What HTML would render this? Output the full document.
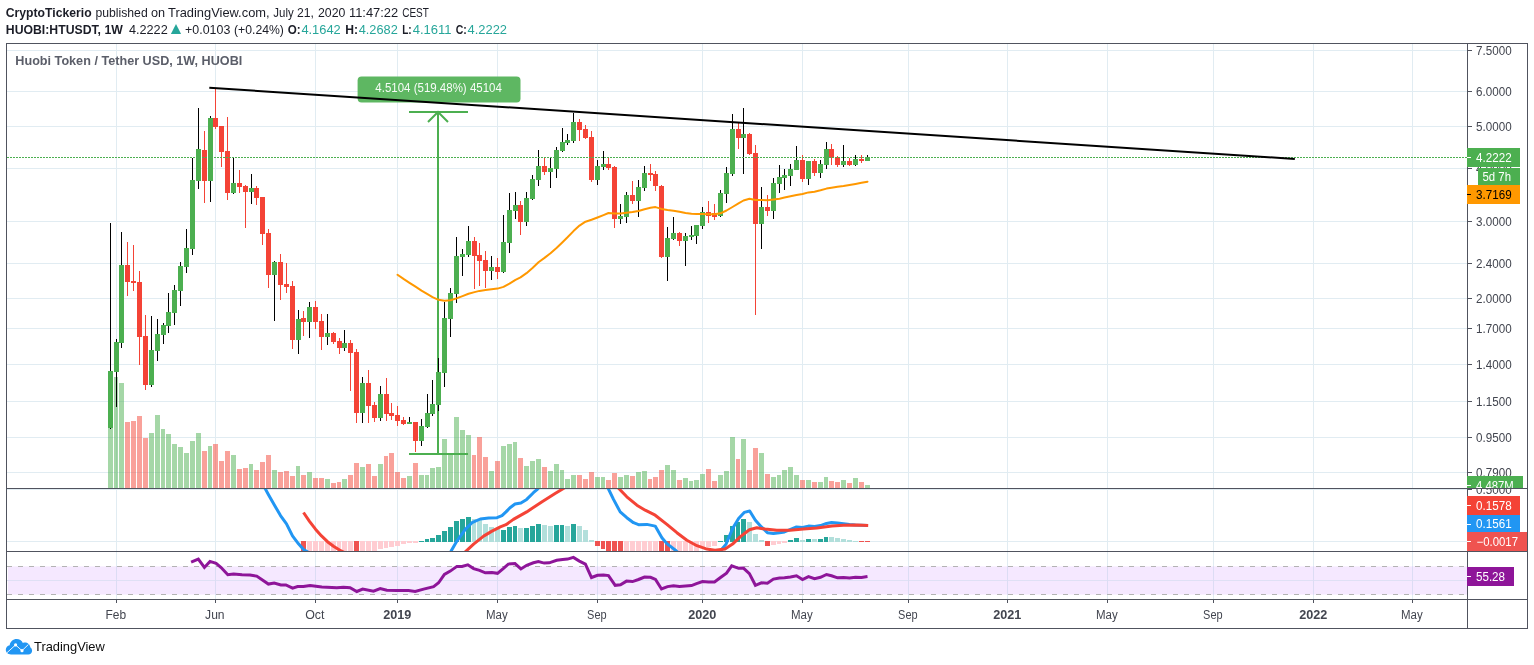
<!DOCTYPE html>
<html lang="en"><head><meta charset="utf-8"><title>HUOBI:HTUSDT 1W - TradingView</title>
<style>
html,body{margin:0;padding:0;background:#fff;}
body{width:1534px;height:665px;position:relative;overflow:hidden;font-family:"Liberation Sans",Arial,sans-serif;}
svg text{white-space:pre}
</style></head><body>
<svg width="1534" height="665" viewBox="0 0 1534 665" style="position:absolute;left:0;top:0">
<defs>
<clipPath id="c1"><rect x="7" y="44" width="1460" height="444"/></clipPath>
<clipPath id="c2"><rect x="7" y="489" width="1460" height="62"/></clipPath>
<clipPath id="c3"><rect x="7" y="552" width="1460" height="47"/></clipPath>
<clipPath id="a1"><rect x="1467" y="44" width="60" height="444"/></clipPath>
<clipPath id="a2"><rect x="1467" y="489" width="61" height="62"/></clipPath>
</defs>
<rect width="1534" height="665" fill="#fff"/>
<g shape-rendering="crispEdges">
<rect x="116" y="44" width="1" height="555" fill="#e1ecf2"/>
<rect x="215" y="44" width="1" height="555" fill="#e1ecf2"/>
<rect x="315" y="44" width="1" height="555" fill="#e1ecf2"/>
<rect x="397" y="44" width="1" height="555" fill="#e1ecf2"/>
<rect x="497" y="44" width="1" height="555" fill="#e1ecf2"/>
<rect x="597" y="44" width="1" height="555" fill="#e1ecf2"/>
<rect x="702" y="44" width="1" height="555" fill="#e1ecf2"/>
<rect x="802" y="44" width="1" height="555" fill="#e1ecf2"/>
<rect x="908" y="44" width="1" height="555" fill="#e1ecf2"/>
<rect x="1007" y="44" width="1" height="555" fill="#e1ecf2"/>
<rect x="1107" y="44" width="1" height="555" fill="#e1ecf2"/>
<rect x="1213" y="44" width="1" height="555" fill="#e1ecf2"/>
<rect x="1313" y="44" width="1" height="555" fill="#e1ecf2"/>
<rect x="1412" y="44" width="1" height="555" fill="#e1ecf2"/>
<rect x="7" y="50" width="1460" height="1" fill="#e1ecf2"/>
<rect x="7" y="91" width="1460" height="1" fill="#e1ecf2"/>
<rect x="7" y="126" width="1460" height="1" fill="#e1ecf2"/>
<rect x="7" y="168" width="1460" height="1" fill="#e1ecf2"/>
<rect x="7" y="221" width="1460" height="1" fill="#e1ecf2"/>
<rect x="7" y="263" width="1460" height="1" fill="#e1ecf2"/>
<rect x="7" y="298" width="1460" height="1" fill="#e1ecf2"/>
<rect x="7" y="328" width="1460" height="1" fill="#e1ecf2"/>
<rect x="7" y="364" width="1460" height="1" fill="#e1ecf2"/>
<rect x="7" y="401" width="1460" height="1" fill="#e1ecf2"/>
<rect x="7" y="437" width="1460" height="1" fill="#e1ecf2"/>
<rect x="7" y="472" width="1460" height="1" fill="#e1ecf2"/>
<rect x="7" y="541" width="1460" height="1" fill="#e1ecf2"/>
<rect x="7" y="489" width="1460" height="1" fill="#e1ecf2"/>
<rect x="8" y="566.4" width="1459" height="28.2" fill="#f5e8ff" shape-rendering="geometricPrecision"/>
<rect x="7" y="580" width="1460" height="1" fill="#dfe0f5"/>
<rect x="116" y="566" width="1" height="29" fill="#dcdcf4"/>
<rect x="215" y="566" width="1" height="29" fill="#dcdcf4"/>
<rect x="315" y="566" width="1" height="29" fill="#dcdcf4"/>
<rect x="397" y="566" width="1" height="29" fill="#dcdcf4"/>
<rect x="497" y="566" width="1" height="29" fill="#dcdcf4"/>
<rect x="597" y="566" width="1" height="29" fill="#dcdcf4"/>
<rect x="702" y="566" width="1" height="29" fill="#dcdcf4"/>
<rect x="802" y="566" width="1" height="29" fill="#dcdcf4"/>
<rect x="908" y="566" width="1" height="29" fill="#dcdcf4"/>
<rect x="1007" y="566" width="1" height="29" fill="#dcdcf4"/>
<rect x="1107" y="566" width="1" height="29" fill="#dcdcf4"/>
<rect x="1213" y="566" width="1" height="29" fill="#dcdcf4"/>
<rect x="1313" y="566" width="1" height="29" fill="#dcdcf4"/>
<rect x="1412" y="566" width="1" height="29" fill="#dcdcf4"/>
</g>
<g stroke="#b3b3b3" stroke-width="1" stroke-dasharray="5 6" shape-rendering="crispEdges"><line x1="7" y1="566.5" x2="1467" y2="566.5"/><line x1="7" y1="594.5" x2="1467" y2="594.5"/></g>
<text x="15.3" y="65.2" font-family="Liberation Sans, Arial, sans-serif" font-weight="bold" font-size="12.4" fill="#5b5e69" textLength="227" lengthAdjust="spacingAndGlyphs">Huobi Token / Tether USD, 1W, HUOBI</text>
<g clip-path="url(#c1)" shape-rendering="crispEdges">
<rect x="108" y="380" width="5" height="108" fill="#4caf50" fill-opacity="0.5"/>
<rect x="114" y="377" width="4" height="111" fill="#4caf50" fill-opacity="0.5"/>
<rect x="119" y="383" width="5" height="105" fill="#4caf50" fill-opacity="0.5"/>
<rect x="125" y="422" width="5" height="66" fill="#f44336" fill-opacity="0.5"/>
<rect x="131" y="421" width="5" height="67" fill="#f44336" fill-opacity="0.5"/>
<rect x="137" y="416" width="5" height="72" fill="#f44336" fill-opacity="0.5"/>
<rect x="143" y="438" width="5" height="50" fill="#f44336" fill-opacity="0.5"/>
<rect x="149" y="433" width="5" height="55" fill="#4caf50" fill-opacity="0.5"/>
<rect x="155" y="415" width="5" height="73" fill="#4caf50" fill-opacity="0.5"/>
<rect x="161" y="429" width="4" height="59" fill="#4caf50" fill-opacity="0.5"/>
<rect x="166" y="434" width="5" height="54" fill="#4caf50" fill-opacity="0.5"/>
<rect x="172" y="444" width="5" height="44" fill="#4caf50" fill-opacity="0.5"/>
<rect x="178" y="447" width="5" height="41" fill="#4caf50" fill-opacity="0.5"/>
<rect x="184" y="453" width="5" height="35" fill="#4caf50" fill-opacity="0.5"/>
<rect x="190" y="441" width="5" height="47" fill="#4caf50" fill-opacity="0.5"/>
<rect x="196" y="433" width="5" height="55" fill="#4caf50" fill-opacity="0.5"/>
<rect x="202" y="451" width="5" height="37" fill="#f44336" fill-opacity="0.5"/>
<rect x="208" y="446" width="4" height="42" fill="#4caf50" fill-opacity="0.5"/>
<rect x="213" y="444" width="5" height="44" fill="#f44336" fill-opacity="0.5"/>
<rect x="219" y="461" width="5" height="27" fill="#f44336" fill-opacity="0.5"/>
<rect x="225" y="451" width="5" height="37" fill="#f44336" fill-opacity="0.5"/>
<rect x="231" y="455" width="5" height="33" fill="#4caf50" fill-opacity="0.5"/>
<rect x="237" y="469" width="5" height="19" fill="#f44336" fill-opacity="0.5"/>
<rect x="243" y="468" width="5" height="20" fill="#f44336" fill-opacity="0.5"/>
<rect x="249" y="464" width="4" height="24" fill="#4caf50" fill-opacity="0.5"/>
<rect x="254" y="470" width="5" height="18" fill="#f44336" fill-opacity="0.5"/>
<rect x="260" y="462" width="5" height="26" fill="#f44336" fill-opacity="0.5"/>
<rect x="266" y="455" width="5" height="33" fill="#f44336" fill-opacity="0.5"/>
<rect x="272" y="470" width="5" height="18" fill="#4caf50" fill-opacity="0.5"/>
<rect x="278" y="472" width="5" height="16" fill="#f44336" fill-opacity="0.5"/>
<rect x="284" y="471" width="5" height="17" fill="#f44336" fill-opacity="0.5"/>
<rect x="290" y="476" width="5" height="12" fill="#f44336" fill-opacity="0.5"/>
<rect x="296" y="466" width="4" height="22" fill="#4caf50" fill-opacity="0.5"/>
<rect x="301" y="475" width="5" height="13" fill="#f44336" fill-opacity="0.5"/>
<rect x="307" y="472" width="5" height="16" fill="#4caf50" fill-opacity="0.5"/>
<rect x="313" y="478" width="5" height="10" fill="#f44336" fill-opacity="0.5"/>
<rect x="319" y="478" width="5" height="10" fill="#f44336" fill-opacity="0.5"/>
<rect x="325" y="479" width="5" height="9" fill="#4caf50" fill-opacity="0.5"/>
<rect x="331" y="483" width="5" height="5" fill="#f44336" fill-opacity="0.5"/>
<rect x="337" y="482" width="4" height="6" fill="#f44336" fill-opacity="0.5"/>
<rect x="342" y="479" width="5" height="9" fill="#4caf50" fill-opacity="0.5"/>
<rect x="348" y="475" width="5" height="13" fill="#f44336" fill-opacity="0.5"/>
<rect x="354" y="463" width="5" height="25" fill="#f44336" fill-opacity="0.5"/>
<rect x="360" y="467" width="5" height="21" fill="#4caf50" fill-opacity="0.5"/>
<rect x="366" y="464" width="5" height="24" fill="#f44336" fill-opacity="0.5"/>
<rect x="372" y="476" width="5" height="12" fill="#f44336" fill-opacity="0.5"/>
<rect x="378" y="464" width="5" height="24" fill="#4caf50" fill-opacity="0.5"/>
<rect x="384" y="456" width="4" height="32" fill="#f44336" fill-opacity="0.5"/>
<rect x="389" y="453" width="5" height="35" fill="#f44336" fill-opacity="0.5"/>
<rect x="395" y="472" width="5" height="16" fill="#f44336" fill-opacity="0.5"/>
<rect x="401" y="478" width="5" height="10" fill="#f44336" fill-opacity="0.5"/>
<rect x="407" y="476" width="5" height="12" fill="#4caf50" fill-opacity="0.5"/>
<rect x="413" y="463" width="5" height="25" fill="#f44336" fill-opacity="0.5"/>
<rect x="419" y="475" width="5" height="13" fill="#4caf50" fill-opacity="0.5"/>
<rect x="425" y="475" width="4" height="13" fill="#4caf50" fill-opacity="0.5"/>
<rect x="430" y="468" width="5" height="20" fill="#4caf50" fill-opacity="0.5"/>
<rect x="436" y="467" width="5" height="21" fill="#4caf50" fill-opacity="0.5"/>
<rect x="442" y="439" width="5" height="49" fill="#4caf50" fill-opacity="0.5"/>
<rect x="448" y="453" width="5" height="35" fill="#4caf50" fill-opacity="0.5"/>
<rect x="454" y="417" width="5" height="71" fill="#4caf50" fill-opacity="0.5"/>
<rect x="460" y="430" width="5" height="58" fill="#4caf50" fill-opacity="0.5"/>
<rect x="466" y="435" width="5" height="53" fill="#4caf50" fill-opacity="0.5"/>
<rect x="472" y="455" width="4" height="33" fill="#f44336" fill-opacity="0.5"/>
<rect x="477" y="437" width="5" height="51" fill="#f44336" fill-opacity="0.5"/>
<rect x="483" y="457" width="5" height="31" fill="#f44336" fill-opacity="0.5"/>
<rect x="489" y="471" width="5" height="17" fill="#4caf50" fill-opacity="0.5"/>
<rect x="495" y="461" width="5" height="27" fill="#f44336" fill-opacity="0.5"/>
<rect x="501" y="446" width="5" height="42" fill="#4caf50" fill-opacity="0.5"/>
<rect x="507" y="444" width="5" height="44" fill="#4caf50" fill-opacity="0.5"/>
<rect x="513" y="442" width="4" height="46" fill="#4caf50" fill-opacity="0.5"/>
<rect x="518" y="458" width="5" height="30" fill="#f44336" fill-opacity="0.5"/>
<rect x="524" y="466" width="5" height="22" fill="#4caf50" fill-opacity="0.5"/>
<rect x="530" y="461" width="5" height="27" fill="#4caf50" fill-opacity="0.5"/>
<rect x="536" y="459" width="5" height="29" fill="#4caf50" fill-opacity="0.5"/>
<rect x="542" y="467" width="5" height="21" fill="#f44336" fill-opacity="0.5"/>
<rect x="548" y="471" width="5" height="17" fill="#4caf50" fill-opacity="0.5"/>
<rect x="554" y="464" width="5" height="24" fill="#4caf50" fill-opacity="0.5"/>
<rect x="560" y="470" width="4" height="18" fill="#4caf50" fill-opacity="0.5"/>
<rect x="565" y="479" width="5" height="9" fill="#4caf50" fill-opacity="0.5"/>
<rect x="571" y="475" width="5" height="13" fill="#4caf50" fill-opacity="0.5"/>
<rect x="577" y="475" width="5" height="13" fill="#f44336" fill-opacity="0.5"/>
<rect x="583" y="479" width="5" height="9" fill="#f44336" fill-opacity="0.5"/>
<rect x="589" y="472" width="5" height="16" fill="#f44336" fill-opacity="0.5"/>
<rect x="595" y="477" width="5" height="11" fill="#4caf50" fill-opacity="0.5"/>
<rect x="601" y="477" width="4" height="11" fill="#4caf50" fill-opacity="0.5"/>
<rect x="606" y="480" width="5" height="8" fill="#f44336" fill-opacity="0.5"/>
<rect x="612" y="473" width="5" height="15" fill="#f44336" fill-opacity="0.5"/>
<rect x="618" y="477" width="5" height="11" fill="#4caf50" fill-opacity="0.5"/>
<rect x="624" y="475" width="5" height="13" fill="#4caf50" fill-opacity="0.5"/>
<rect x="630" y="476" width="5" height="12" fill="#f44336" fill-opacity="0.5"/>
<rect x="636" y="472" width="5" height="16" fill="#4caf50" fill-opacity="0.5"/>
<rect x="642" y="471" width="5" height="17" fill="#4caf50" fill-opacity="0.5"/>
<rect x="648" y="479" width="4" height="9" fill="#f44336" fill-opacity="0.5"/>
<rect x="653" y="477" width="5" height="11" fill="#f44336" fill-opacity="0.5"/>
<rect x="659" y="470" width="5" height="18" fill="#f44336" fill-opacity="0.5"/>
<rect x="665" y="465" width="5" height="23" fill="#4caf50" fill-opacity="0.5"/>
<rect x="671" y="470" width="5" height="18" fill="#4caf50" fill-opacity="0.5"/>
<rect x="677" y="480" width="5" height="8" fill="#f44336" fill-opacity="0.5"/>
<rect x="683" y="478" width="5" height="10" fill="#4caf50" fill-opacity="0.5"/>
<rect x="689" y="481" width="4" height="7" fill="#4caf50" fill-opacity="0.5"/>
<rect x="694" y="480" width="5" height="8" fill="#4caf50" fill-opacity="0.5"/>
<rect x="700" y="474" width="5" height="14" fill="#4caf50" fill-opacity="0.5"/>
<rect x="706" y="469" width="5" height="19" fill="#f44336" fill-opacity="0.5"/>
<rect x="712" y="481" width="5" height="7" fill="#f44336" fill-opacity="0.5"/>
<rect x="718" y="475" width="5" height="13" fill="#4caf50" fill-opacity="0.5"/>
<rect x="724" y="471" width="5" height="17" fill="#4caf50" fill-opacity="0.5"/>
<rect x="730" y="437" width="5" height="51" fill="#4caf50" fill-opacity="0.5"/>
<rect x="736" y="459" width="4" height="29" fill="#f44336" fill-opacity="0.5"/>
<rect x="741" y="439" width="5" height="49" fill="#4caf50" fill-opacity="0.5"/>
<rect x="747" y="470" width="5" height="18" fill="#f44336" fill-opacity="0.5"/>
<rect x="753" y="448" width="5" height="40" fill="#f44336" fill-opacity="0.5"/>
<rect x="759" y="453" width="5" height="35" fill="#4caf50" fill-opacity="0.5"/>
<rect x="765" y="474" width="5" height="14" fill="#f44336" fill-opacity="0.5"/>
<rect x="771" y="477" width="5" height="11" fill="#4caf50" fill-opacity="0.5"/>
<rect x="777" y="475" width="4" height="13" fill="#4caf50" fill-opacity="0.5"/>
<rect x="782" y="470" width="5" height="18" fill="#4caf50" fill-opacity="0.5"/>
<rect x="788" y="467" width="5" height="21" fill="#4caf50" fill-opacity="0.5"/>
<rect x="794" y="475" width="5" height="13" fill="#4caf50" fill-opacity="0.5"/>
<rect x="800" y="480" width="5" height="8" fill="#f44336" fill-opacity="0.5"/>
<rect x="806" y="480" width="5" height="8" fill="#4caf50" fill-opacity="0.5"/>
<rect x="812" y="482" width="5" height="6" fill="#f44336" fill-opacity="0.5"/>
<rect x="818" y="482" width="5" height="6" fill="#4caf50" fill-opacity="0.5"/>
<rect x="824" y="477" width="4" height="11" fill="#4caf50" fill-opacity="0.5"/>
<rect x="829" y="481" width="5" height="7" fill="#f44336" fill-opacity="0.5"/>
<rect x="835" y="482" width="5" height="6" fill="#f44336" fill-opacity="0.5"/>
<rect x="841" y="480" width="5" height="8" fill="#4caf50" fill-opacity="0.5"/>
<rect x="847" y="483" width="5" height="5" fill="#f44336" fill-opacity="0.5"/>
<rect x="853" y="478" width="5" height="10" fill="#4caf50" fill-opacity="0.5"/>
<rect x="859" y="482" width="5" height="6" fill="#f44336" fill-opacity="0.5"/>
<rect x="865" y="485" width="5" height="3" fill="#4caf50" fill-opacity="0.5"/>
</g>
<g clip-path="url(#c1)" stroke="#4caf50" stroke-width="2" fill="none" stroke-linecap="butt">
<line x1="438" y1="112" x2="438" y2="454"/>
<line x1="409" y1="112" x2="468" y2="112"/>
<line x1="409" y1="454" x2="468" y2="454"/>
<polyline points="428,122 438,112 448,122"/>
</g>
<g clip-path="url(#c1)" shape-rendering="crispEdges">
<rect x="110" y="223" width="1" height="206" fill="#000"/>
<rect x="108" y="371" width="5" height="57" fill="#4caf50"/>
<rect x="116" y="339" width="1" height="68" fill="#000"/>
<rect x="114" y="342" width="5" height="30" fill="#4caf50"/>
<rect x="121" y="232" width="1" height="116" fill="#000"/>
<rect x="119" y="265" width="5" height="78" fill="#4caf50"/>
<rect x="127" y="242" width="1" height="54" fill="#f44336"/>
<rect x="125" y="265" width="5" height="17" fill="#f44336"/>
<rect x="133" y="245" width="1" height="46" fill="#f44336"/>
<rect x="131" y="281" width="5" height="2" fill="#f44336"/>
<rect x="139" y="271" width="1" height="94" fill="#f44336"/>
<rect x="137" y="282" width="5" height="55" fill="#f44336"/>
<rect x="145" y="315" width="1" height="75" fill="#f44336"/>
<rect x="143" y="336" width="5" height="49" fill="#f44336"/>
<rect x="151" y="316" width="1" height="71" fill="#000"/>
<rect x="149" y="350" width="5" height="35" fill="#4caf50"/>
<rect x="157" y="319" width="1" height="42" fill="#000"/>
<rect x="155" y="334" width="5" height="17" fill="#4caf50"/>
<rect x="163" y="323" width="1" height="21" fill="#000"/>
<rect x="161" y="325" width="5" height="10" fill="#4caf50"/>
<rect x="168" y="293" width="1" height="40" fill="#000"/>
<rect x="166" y="312" width="5" height="14" fill="#4caf50"/>
<rect x="174" y="285" width="1" height="40" fill="#000"/>
<rect x="172" y="290" width="5" height="23" fill="#4caf50"/>
<rect x="180" y="262" width="1" height="44" fill="#000"/>
<rect x="178" y="266" width="5" height="25" fill="#4caf50"/>
<rect x="186" y="229" width="1" height="44" fill="#000"/>
<rect x="184" y="248" width="5" height="19" fill="#4caf50"/>
<rect x="192" y="158" width="1" height="97" fill="#000"/>
<rect x="190" y="180" width="5" height="69" fill="#4caf50"/>
<rect x="198" y="108" width="1" height="81" fill="#000"/>
<rect x="196" y="149" width="5" height="32" fill="#4caf50"/>
<rect x="204" y="131" width="1" height="72" fill="#f44336"/>
<rect x="202" y="150" width="5" height="31" fill="#f44336"/>
<rect x="210" y="116" width="1" height="86" fill="#000"/>
<rect x="208" y="118" width="5" height="63" fill="#4caf50"/>
<rect x="215" y="88" width="1" height="41" fill="#f44336"/>
<rect x="213" y="118" width="5" height="9" fill="#f44336"/>
<rect x="221" y="126" width="1" height="41" fill="#f44336"/>
<rect x="219" y="126" width="5" height="26" fill="#f44336"/>
<rect x="227" y="117" width="1" height="83" fill="#f44336"/>
<rect x="225" y="151" width="5" height="42" fill="#f44336"/>
<rect x="233" y="158" width="1" height="36" fill="#000"/>
<rect x="231" y="183" width="5" height="10" fill="#4caf50"/>
<rect x="239" y="170" width="1" height="23" fill="#f44336"/>
<rect x="237" y="183" width="5" height="4" fill="#f44336"/>
<rect x="245" y="185" width="1" height="43" fill="#f44336"/>
<rect x="243" y="186" width="5" height="6" fill="#f44336"/>
<rect x="251" y="174" width="1" height="30" fill="#000"/>
<rect x="249" y="188" width="5" height="4" fill="#4caf50"/>
<rect x="256" y="186" width="1" height="19" fill="#f44336"/>
<rect x="254" y="188" width="5" height="10" fill="#f44336"/>
<rect x="262" y="197" width="1" height="48" fill="#f44336"/>
<rect x="260" y="197" width="5" height="37" fill="#f44336"/>
<rect x="268" y="229" width="1" height="59" fill="#f44336"/>
<rect x="266" y="233" width="5" height="42" fill="#f44336"/>
<rect x="274" y="261" width="1" height="60" fill="#000"/>
<rect x="272" y="262" width="5" height="13" fill="#4caf50"/>
<rect x="280" y="254" width="1" height="46" fill="#f44336"/>
<rect x="278" y="262" width="5" height="23" fill="#f44336"/>
<rect x="286" y="263" width="1" height="30" fill="#f44336"/>
<rect x="284" y="284" width="5" height="3" fill="#f44336"/>
<rect x="292" y="281" width="1" height="68" fill="#f44336"/>
<rect x="290" y="286" width="5" height="54" fill="#f44336"/>
<rect x="298" y="310" width="1" height="44" fill="#000"/>
<rect x="296" y="319" width="5" height="21" fill="#4caf50"/>
<rect x="303" y="311" width="1" height="25" fill="#f44336"/>
<rect x="301" y="318" width="5" height="4" fill="#f44336"/>
<rect x="309" y="302" width="1" height="36" fill="#000"/>
<rect x="307" y="307" width="5" height="15" fill="#4caf50"/>
<rect x="315" y="301" width="1" height="28" fill="#f44336"/>
<rect x="313" y="307" width="5" height="15" fill="#f44336"/>
<rect x="321" y="314" width="1" height="36" fill="#f44336"/>
<rect x="319" y="321" width="5" height="16" fill="#f44336"/>
<rect x="327" y="314" width="1" height="31" fill="#000"/>
<rect x="325" y="333" width="5" height="4" fill="#4caf50"/>
<rect x="333" y="332" width="1" height="12" fill="#f44336"/>
<rect x="331" y="333" width="5" height="9" fill="#f44336"/>
<rect x="339" y="338" width="1" height="16" fill="#f44336"/>
<rect x="337" y="341" width="5" height="7" fill="#f44336"/>
<rect x="344" y="330" width="1" height="21" fill="#000"/>
<rect x="342" y="343" width="5" height="5" fill="#4caf50"/>
<rect x="350" y="340" width="1" height="51" fill="#f44336"/>
<rect x="348" y="343" width="5" height="10" fill="#f44336"/>
<rect x="356" y="349" width="1" height="74" fill="#f44336"/>
<rect x="354" y="352" width="5" height="61" fill="#f44336"/>
<rect x="362" y="377" width="1" height="46" fill="#000"/>
<rect x="360" y="383" width="5" height="30" fill="#4caf50"/>
<rect x="368" y="370" width="1" height="53" fill="#f44336"/>
<rect x="366" y="383" width="5" height="23" fill="#f44336"/>
<rect x="374" y="402" width="1" height="20" fill="#f44336"/>
<rect x="372" y="405" width="5" height="13" fill="#f44336"/>
<rect x="380" y="386" width="1" height="35" fill="#000"/>
<rect x="378" y="394" width="5" height="24" fill="#4caf50"/>
<rect x="386" y="378" width="1" height="43" fill="#f44336"/>
<rect x="384" y="394" width="5" height="20" fill="#f44336"/>
<rect x="391" y="403" width="1" height="17" fill="#f44336"/>
<rect x="389" y="413" width="5" height="3" fill="#f44336"/>
<rect x="397" y="406" width="1" height="20" fill="#f44336"/>
<rect x="395" y="415" width="5" height="6" fill="#f44336"/>
<rect x="403" y="417" width="1" height="8" fill="#f44336"/>
<rect x="401" y="420" width="5" height="4" fill="#f44336"/>
<rect x="409" y="417" width="1" height="7" fill="#000"/>
<rect x="407" y="422" width="5" height="2" fill="#4caf50"/>
<rect x="415" y="422" width="1" height="30" fill="#f44336"/>
<rect x="413" y="422" width="5" height="19" fill="#f44336"/>
<rect x="421" y="419" width="1" height="27" fill="#000"/>
<rect x="419" y="426" width="5" height="15" fill="#4caf50"/>
<rect x="427" y="394" width="1" height="34" fill="#000"/>
<rect x="425" y="413" width="5" height="14" fill="#4caf50"/>
<rect x="432" y="380" width="1" height="36" fill="#000"/>
<rect x="430" y="404" width="5" height="10" fill="#4caf50"/>
<rect x="438" y="358" width="1" height="53" fill="#000"/>
<rect x="436" y="372" width="5" height="33" fill="#4caf50"/>
<rect x="444" y="302" width="1" height="85" fill="#000"/>
<rect x="442" y="318" width="5" height="55" fill="#4caf50"/>
<rect x="450" y="288" width="1" height="49" fill="#000"/>
<rect x="448" y="293" width="5" height="26" fill="#4caf50"/>
<rect x="456" y="237" width="1" height="66" fill="#000"/>
<rect x="454" y="256" width="5" height="38" fill="#4caf50"/>
<rect x="462" y="249" width="1" height="27" fill="#000"/>
<rect x="460" y="254" width="5" height="3" fill="#4caf50"/>
<rect x="468" y="226" width="1" height="31" fill="#000"/>
<rect x="466" y="241" width="5" height="14" fill="#4caf50"/>
<rect x="474" y="237" width="1" height="52" fill="#f44336"/>
<rect x="472" y="241" width="5" height="15" fill="#f44336"/>
<rect x="479" y="243" width="1" height="43" fill="#f44336"/>
<rect x="477" y="255" width="5" height="6" fill="#f44336"/>
<rect x="485" y="251" width="1" height="37" fill="#f44336"/>
<rect x="483" y="260" width="5" height="11" fill="#f44336"/>
<rect x="491" y="256" width="1" height="24" fill="#000"/>
<rect x="489" y="267" width="5" height="4" fill="#4caf50"/>
<rect x="497" y="258" width="1" height="21" fill="#f44336"/>
<rect x="495" y="267" width="5" height="5" fill="#f44336"/>
<rect x="503" y="215" width="1" height="58" fill="#000"/>
<rect x="501" y="242" width="5" height="30" fill="#4caf50"/>
<rect x="509" y="193" width="1" height="60" fill="#000"/>
<rect x="507" y="210" width="5" height="33" fill="#4caf50"/>
<rect x="515" y="192" width="1" height="27" fill="#000"/>
<rect x="513" y="205" width="5" height="6" fill="#4caf50"/>
<rect x="520" y="201" width="1" height="34" fill="#f44336"/>
<rect x="518" y="205" width="5" height="17" fill="#f44336"/>
<rect x="526" y="192" width="1" height="34" fill="#000"/>
<rect x="524" y="198" width="5" height="24" fill="#4caf50"/>
<rect x="532" y="175" width="1" height="25" fill="#000"/>
<rect x="530" y="179" width="5" height="20" fill="#4caf50"/>
<rect x="538" y="150" width="1" height="36" fill="#000"/>
<rect x="536" y="166" width="5" height="14" fill="#4caf50"/>
<rect x="544" y="158" width="1" height="17" fill="#f44336"/>
<rect x="542" y="166" width="5" height="6" fill="#f44336"/>
<rect x="550" y="158" width="1" height="30" fill="#000"/>
<rect x="548" y="168" width="5" height="4" fill="#4caf50"/>
<rect x="556" y="147" width="1" height="31" fill="#000"/>
<rect x="554" y="150" width="5" height="19" fill="#4caf50"/>
<rect x="562" y="128" width="1" height="24" fill="#000"/>
<rect x="560" y="142" width="5" height="9" fill="#4caf50"/>
<rect x="567" y="134" width="1" height="11" fill="#000"/>
<rect x="565" y="140" width="5" height="3" fill="#4caf50"/>
<rect x="573" y="113" width="1" height="30" fill="#000"/>
<rect x="571" y="122" width="5" height="19" fill="#4caf50"/>
<rect x="579" y="119" width="1" height="22" fill="#f44336"/>
<rect x="577" y="122" width="5" height="8" fill="#f44336"/>
<rect x="585" y="125" width="1" height="14" fill="#f44336"/>
<rect x="583" y="129" width="5" height="9" fill="#f44336"/>
<rect x="591" y="131" width="1" height="51" fill="#f44336"/>
<rect x="589" y="137" width="5" height="43" fill="#f44336"/>
<rect x="597" y="160" width="1" height="25" fill="#000"/>
<rect x="595" y="166" width="5" height="14" fill="#4caf50"/>
<rect x="603" y="151" width="1" height="19" fill="#000"/>
<rect x="601" y="164" width="5" height="3" fill="#4caf50"/>
<rect x="608" y="158" width="1" height="12" fill="#f44336"/>
<rect x="606" y="164" width="5" height="4" fill="#f44336"/>
<rect x="614" y="166" width="1" height="62" fill="#f44336"/>
<rect x="612" y="167" width="5" height="52" fill="#f44336"/>
<rect x="620" y="204" width="1" height="20" fill="#000"/>
<rect x="618" y="216" width="5" height="3" fill="#4caf50"/>
<rect x="626" y="192" width="1" height="31" fill="#000"/>
<rect x="624" y="195" width="5" height="22" fill="#4caf50"/>
<rect x="632" y="181" width="1" height="23" fill="#f44336"/>
<rect x="630" y="195" width="5" height="6" fill="#f44336"/>
<rect x="638" y="180" width="1" height="37" fill="#000"/>
<rect x="636" y="187" width="5" height="14" fill="#4caf50"/>
<rect x="644" y="166" width="1" height="25" fill="#000"/>
<rect x="642" y="173" width="5" height="15" fill="#4caf50"/>
<rect x="650" y="164" width="1" height="17" fill="#f44336"/>
<rect x="648" y="173" width="5" height="2" fill="#f44336"/>
<rect x="655" y="171" width="1" height="20" fill="#f44336"/>
<rect x="653" y="174" width="5" height="12" fill="#f44336"/>
<rect x="661" y="185" width="1" height="73" fill="#f44336"/>
<rect x="659" y="186" width="5" height="71" fill="#f44336"/>
<rect x="667" y="227" width="1" height="54" fill="#000"/>
<rect x="665" y="238" width="5" height="19" fill="#4caf50"/>
<rect x="673" y="217" width="1" height="23" fill="#000"/>
<rect x="671" y="233" width="5" height="6" fill="#4caf50"/>
<rect x="679" y="232" width="1" height="14" fill="#f44336"/>
<rect x="677" y="233" width="5" height="8" fill="#f44336"/>
<rect x="685" y="233" width="1" height="33" fill="#000"/>
<rect x="683" y="236" width="5" height="5" fill="#4caf50"/>
<rect x="691" y="226" width="1" height="14" fill="#000"/>
<rect x="689" y="235" width="5" height="2" fill="#4caf50"/>
<rect x="696" y="225" width="1" height="19" fill="#000"/>
<rect x="694" y="225" width="5" height="11" fill="#4caf50"/>
<rect x="702" y="207" width="1" height="22" fill="#000"/>
<rect x="700" y="212" width="5" height="14" fill="#4caf50"/>
<rect x="708" y="201" width="1" height="22" fill="#f44336"/>
<rect x="706" y="212" width="5" height="4" fill="#f44336"/>
<rect x="714" y="204" width="1" height="16" fill="#f44336"/>
<rect x="712" y="213" width="5" height="4" fill="#f44336"/>
<rect x="720" y="190" width="1" height="27" fill="#000"/>
<rect x="718" y="193" width="5" height="23" fill="#4caf50"/>
<rect x="726" y="167" width="1" height="36" fill="#000"/>
<rect x="724" y="173" width="5" height="21" fill="#4caf50"/>
<rect x="732" y="114" width="1" height="62" fill="#000"/>
<rect x="730" y="129" width="5" height="45" fill="#4caf50"/>
<rect x="738" y="122" width="1" height="27" fill="#f44336"/>
<rect x="736" y="129" width="5" height="9" fill="#f44336"/>
<rect x="743" y="108" width="1" height="66" fill="#000"/>
<rect x="741" y="134" width="5" height="4" fill="#4caf50"/>
<rect x="749" y="133" width="1" height="22" fill="#f44336"/>
<rect x="747" y="134" width="5" height="20" fill="#f44336"/>
<rect x="755" y="145" width="1" height="170" fill="#f44336"/>
<rect x="753" y="153" width="5" height="71" fill="#f44336"/>
<rect x="761" y="187" width="1" height="62" fill="#000"/>
<rect x="759" y="207" width="5" height="17" fill="#4caf50"/>
<rect x="767" y="195" width="1" height="21" fill="#f44336"/>
<rect x="765" y="207" width="5" height="4" fill="#f44336"/>
<rect x="773" y="178" width="1" height="41" fill="#000"/>
<rect x="771" y="183" width="5" height="28" fill="#4caf50"/>
<rect x="779" y="165" width="1" height="28" fill="#000"/>
<rect x="777" y="177" width="5" height="7" fill="#4caf50"/>
<rect x="784" y="169" width="1" height="21" fill="#000"/>
<rect x="782" y="175" width="5" height="3" fill="#4caf50"/>
<rect x="790" y="164" width="1" height="22" fill="#000"/>
<rect x="788" y="169" width="5" height="7" fill="#4caf50"/>
<rect x="796" y="146" width="1" height="24" fill="#000"/>
<rect x="794" y="160" width="5" height="10" fill="#4caf50"/>
<rect x="802" y="155" width="1" height="27" fill="#f44336"/>
<rect x="800" y="160" width="5" height="19" fill="#f44336"/>
<rect x="808" y="161" width="1" height="24" fill="#000"/>
<rect x="806" y="161" width="5" height="18" fill="#4caf50"/>
<rect x="814" y="159" width="1" height="17" fill="#f44336"/>
<rect x="812" y="161" width="5" height="12" fill="#f44336"/>
<rect x="820" y="160" width="1" height="18" fill="#000"/>
<rect x="818" y="164" width="5" height="9" fill="#4caf50"/>
<rect x="826" y="142" width="1" height="27" fill="#000"/>
<rect x="824" y="149" width="5" height="16" fill="#4caf50"/>
<rect x="831" y="144" width="1" height="21" fill="#f44336"/>
<rect x="829" y="149" width="5" height="8" fill="#f44336"/>
<rect x="837" y="156" width="1" height="11" fill="#f44336"/>
<rect x="835" y="157" width="5" height="8" fill="#f44336"/>
<rect x="843" y="145" width="1" height="22" fill="#000"/>
<rect x="841" y="161" width="5" height="4" fill="#4caf50"/>
<rect x="849" y="158" width="1" height="8" fill="#f44336"/>
<rect x="847" y="161" width="5" height="4" fill="#f44336"/>
<rect x="855" y="155" width="1" height="11" fill="#000"/>
<rect x="853" y="159" width="5" height="6" fill="#4caf50"/>
<rect x="861" y="155" width="1" height="8" fill="#f44336"/>
<rect x="859" y="159" width="5" height="2" fill="#f44336"/>
<rect x="867" y="155" width="1" height="6" fill="#000"/>
<rect x="865" y="157" width="5" height="4" fill="#4caf50"/>
</g>
<polyline clip-path="url(#c1)" points="397.5,274.7 403.5,278.9 409.5,282.8 415.5,286.7 421.5,290.7 427.5,294.2 432.5,297.2 438.5,299.8 444.5,300.8 450.5,300.3 456.5,298.4 462.5,296.1 468.5,293.8 474.5,292.1 479.5,290.9 485.5,290.1 491.5,289.3 497.5,288.6 503.5,286.9 509.5,283.6 515.5,279.9 520.5,277.3 526.5,273.2 532.5,267.9 538.5,262.2 544.5,257.9 550.5,253.2 556.5,248.0 562.5,242.2 567.5,237.3 573.5,231.1 579.5,225.6 585.5,221.7 591.5,219.8 597.5,217.5 603.5,215.1 608.5,213.0 614.5,213.4 620.5,213.4 626.5,212.7 632.5,212.0 638.5,211.0 644.5,209.2 650.5,207.8 655.5,207.1 661.5,208.9 667.5,209.9 673.5,210.7 679.5,211.7 685.5,213.0 691.5,213.8 696.5,214.0 702.5,214.0 708.5,214.3 714.5,214.3 720.5,213.3 726.5,210.5 732.5,207.0 738.5,203.4 743.5,200.5 749.5,198.7 755.5,200.0 761.5,200.0 767.5,200.2 773.5,199.4 779.5,198.7 784.5,197.6 790.5,196.3 796.5,195.0 802.5,194.0 808.5,192.4 814.5,191.7 820.5,190.3 826.5,188.6 831.5,187.7 837.5,186.7 843.5,185.9 849.5,184.9 855.5,183.9 861.5,182.8 867.5,181.7" fill="none" stroke="#ff9800" stroke-width="2" stroke-linejoin="round" stroke-linecap="round"/>
<line x1="7" y1="157.5" x2="1467" y2="157.5" stroke="#4caf50" stroke-width="1" stroke-dasharray="2 1" shape-rendering="crispEdges"/>
<rect x="357.6" y="76.5" width="162.9" height="26" rx="4" ry="4" fill="#5eb762"/>
<text x="438.6" y="92.3" text-anchor="middle" font-family="Liberation Sans, Arial, sans-serif" font-size="12" fill="#fff" fill-opacity="0.95" textLength="126.5" lengthAdjust="spacingAndGlyphs">4.5104 (519.48%) 45104</text>
<line x1="209.3" y1="87.8" x2="1294.8" y2="158.9" stroke="#000" stroke-width="2" stroke-linecap="butt"/>
<g clip-path="url(#c2)">
<g shape-rendering="crispEdges">
<rect x="301" y="541" width="5" height="10" fill="#ef5350"/>
<rect x="307" y="541" width="5" height="10" fill="#ffcdd2"/>
<rect x="313" y="541" width="5" height="10" fill="#ffcdd2"/>
<rect x="319" y="541" width="5" height="10" fill="#ffcdd2"/>
<rect x="325" y="541" width="5" height="10" fill="#ffcdd2"/>
<rect x="331" y="541" width="5" height="10" fill="#ffcdd2"/>
<rect x="337" y="541" width="4" height="10" fill="#ffcdd2"/>
<rect x="342" y="541" width="5" height="10" fill="#ffcdd2"/>
<rect x="348" y="541" width="5" height="10" fill="#ffcdd2"/>
<rect x="354" y="541" width="5" height="10" fill="#ef5350"/>
<rect x="360" y="541" width="5" height="10" fill="#ffcdd2"/>
<rect x="366" y="541" width="5" height="10" fill="#ffcdd2"/>
<rect x="372" y="541" width="5" height="10" fill="#ffcdd2"/>
<rect x="378" y="541" width="5" height="8" fill="#ffcdd2"/>
<rect x="384" y="541" width="4" height="7" fill="#ffcdd2"/>
<rect x="389" y="541" width="5" height="6" fill="#ffcdd2"/>
<rect x="395" y="541" width="5" height="5" fill="#ffcdd2"/>
<rect x="401" y="541" width="5" height="3" fill="#ffcdd2"/>
<rect x="407" y="541" width="5" height="2" fill="#ffcdd2"/>
<rect x="413" y="541" width="5" height="2" fill="#ffcdd2"/>
<rect x="419" y="541" width="5" height="1" fill="#26a69a"/>
<rect x="425" y="539" width="4" height="3" fill="#26a69a"/>
<rect x="430" y="538" width="5" height="4" fill="#26a69a"/>
<rect x="436" y="535" width="5" height="7" fill="#26a69a"/>
<rect x="442" y="531" width="5" height="11" fill="#26a69a"/>
<rect x="448" y="527" width="5" height="15" fill="#26a69a"/>
<rect x="454" y="521" width="5" height="21" fill="#26a69a"/>
<rect x="460" y="519" width="5" height="23" fill="#26a69a"/>
<rect x="466" y="517" width="5" height="25" fill="#26a69a"/>
<rect x="472" y="519" width="4" height="23" fill="#b2dfdb"/>
<rect x="477" y="520" width="5" height="22" fill="#b2dfdb"/>
<rect x="483" y="524" width="5" height="18" fill="#b2dfdb"/>
<rect x="489" y="527" width="5" height="15" fill="#b2dfdb"/>
<rect x="495" y="529" width="5" height="13" fill="#b2dfdb"/>
<rect x="501" y="530" width="5" height="12" fill="#26a69a"/>
<rect x="507" y="527" width="5" height="15" fill="#26a69a"/>
<rect x="513" y="526" width="4" height="16" fill="#26a69a"/>
<rect x="518" y="528" width="5" height="14" fill="#b2dfdb"/>
<rect x="524" y="528" width="5" height="14" fill="#26a69a"/>
<rect x="530" y="526" width="5" height="16" fill="#26a69a"/>
<rect x="536" y="524" width="5" height="18" fill="#26a69a"/>
<rect x="542" y="525" width="5" height="17" fill="#b2dfdb"/>
<rect x="548" y="526" width="5" height="16" fill="#b2dfdb"/>
<rect x="554" y="525" width="5" height="17" fill="#26a69a"/>
<rect x="560" y="525" width="4" height="17" fill="#26a69a"/>
<rect x="565" y="526" width="5" height="16" fill="#b2dfdb"/>
<rect x="571" y="524" width="5" height="18" fill="#26a69a"/>
<rect x="577" y="526" width="5" height="16" fill="#b2dfdb"/>
<rect x="583" y="530" width="5" height="12" fill="#b2dfdb"/>
<rect x="589" y="540" width="5" height="2" fill="#b2dfdb"/>
<rect x="595" y="541" width="5" height="5" fill="#ef5350"/>
<rect x="601" y="541" width="4" height="8" fill="#ef5350"/>
<rect x="606" y="541" width="5" height="10" fill="#ef5350"/>
<rect x="612" y="541" width="5" height="10" fill="#ef5350"/>
<rect x="618" y="541" width="5" height="10" fill="#ef5350"/>
<rect x="624" y="541" width="5" height="10" fill="#ffcdd2"/>
<rect x="630" y="541" width="5" height="10" fill="#ffcdd2"/>
<rect x="636" y="541" width="5" height="10" fill="#ffcdd2"/>
<rect x="642" y="541" width="5" height="10" fill="#ffcdd2"/>
<rect x="648" y="541" width="4" height="10" fill="#ffcdd2"/>
<rect x="653" y="541" width="5" height="10" fill="#ffcdd2"/>
<rect x="659" y="541" width="5" height="10" fill="#ef5350"/>
<rect x="665" y="541" width="5" height="10" fill="#ef5350"/>
<rect x="671" y="541" width="5" height="10" fill="#ffcdd2"/>
<rect x="677" y="541" width="5" height="10" fill="#ffcdd2"/>
<rect x="683" y="541" width="5" height="10" fill="#ffcdd2"/>
<rect x="689" y="541" width="4" height="10" fill="#ffcdd2"/>
<rect x="694" y="541" width="5" height="10" fill="#ffcdd2"/>
<rect x="700" y="541" width="5" height="7" fill="#ffcdd2"/>
<rect x="706" y="541" width="5" height="6" fill="#ffcdd2"/>
<rect x="712" y="541" width="5" height="5" fill="#ffcdd2"/>
<rect x="718" y="541" width="5" height="1" fill="#26a69a"/>
<rect x="724" y="535" width="5" height="7" fill="#26a69a"/>
<rect x="730" y="526" width="5" height="16" fill="#26a69a"/>
<rect x="736" y="522" width="4" height="20" fill="#26a69a"/>
<rect x="741" y="519" width="5" height="23" fill="#26a69a"/>
<rect x="747" y="522" width="5" height="20" fill="#b2dfdb"/>
<rect x="753" y="534" width="5" height="8" fill="#b2dfdb"/>
<rect x="759" y="540" width="5" height="2" fill="#b2dfdb"/>
<rect x="765" y="541" width="5" height="5" fill="#ef5350"/>
<rect x="771" y="541" width="5" height="4" fill="#ffcdd2"/>
<rect x="777" y="541" width="4" height="3" fill="#ffcdd2"/>
<rect x="782" y="541" width="5" height="2" fill="#ffcdd2"/>
<rect x="788" y="540" width="5" height="2" fill="#26a69a"/>
<rect x="794" y="538" width="5" height="4" fill="#26a69a"/>
<rect x="800" y="540" width="5" height="2" fill="#b2dfdb"/>
<rect x="806" y="539" width="5" height="3" fill="#26a69a"/>
<rect x="812" y="539" width="5" height="3" fill="#b2dfdb"/>
<rect x="818" y="539" width="5" height="3" fill="#26a69a"/>
<rect x="824" y="537" width="4" height="5" fill="#26a69a"/>
<rect x="829" y="537" width="5" height="5" fill="#b2dfdb"/>
<rect x="835" y="538" width="5" height="4" fill="#b2dfdb"/>
<rect x="841" y="539" width="5" height="3" fill="#b2dfdb"/>
<rect x="847" y="540" width="5" height="2" fill="#b2dfdb"/>
<rect x="853" y="541" width="5" height="1" fill="#b2dfdb"/>
<rect x="859" y="541" width="5" height="1" fill="#ef5350"/>
<rect x="865" y="541" width="5" height="1" fill="#ef5350"/>
</g>
<polyline points="262.5,483.0 265.4,489.0 268.5,494.7 274.5,505.2 280.5,515.6 286.5,523.9 292.5,535.9 298.5,543.8 303.5,549.5 309.5,553.0" fill="none" stroke="#2196f3" stroke-width="3" stroke-linejoin="round" stroke-linecap="butt"/>
<polyline points="448.0,556.0 451.1,551.1 456.9,541.1 465.3,529.4 472.0,522.7 480.3,519.0 488.7,518.0 497.0,517.7 502.0,515.7 506.0,511.9 510.0,507.7 515.0,504.0 520.9,503.0 526.7,499.4 533.4,492.7 537.6,489.0 542.0,484.0" fill="none" stroke="#2196f3" stroke-width="3" stroke-linejoin="round" stroke-linecap="butt"/>
<polyline points="605.5,482.0 608.5,489.0 613.5,499.4 620.2,511.9 626.8,517.7 633.5,522.7 638.5,524.7 646.9,524.4 655.2,526.1 661.9,537.7 666.9,543.6 676.1,550.8 682.0,556.0" fill="none" stroke="#2196f3" stroke-width="3" stroke-linejoin="round" stroke-linecap="butt"/>
<polyline points="716.0,556.0 720.9,550.3 725.9,544.4 732.6,528.6 738.6,518.5 744.2,512.4 749.7,511.0 755.4,520.2 761.4,526.9 767.4,532.7 773.4,533.6 779.5,532.7 784.5,531.9 790.5,529.4 796.5,526.9 802.5,527.4 808.5,526.1 814.5,526.4 820.5,525.6 826.5,523.4 831.5,522.6 837.5,523.0 843.5,523.7 849.5,524.6 855.5,525.1 861.5,525.2 867.5,525.4" fill="none" stroke="#2196f3" stroke-width="3" stroke-linejoin="round" stroke-linecap="butt"/>
<polyline points="303.5,512.5 309.5,521.3 315.5,529.2 321.5,535.9 327.5,541.7 333.5,546.2 339.5,550.0 344.5,552.6 350.0,555.0" fill="none" stroke="#f44336" stroke-width="3" stroke-linejoin="round" stroke-linecap="butt"/>
<polyline points="461.0,556.0 466.1,551.1 473.6,544.1 483.6,536.1 492.0,531.1 500.3,526.9 506.0,524.7 513.4,519.4 526.7,511.9 541.7,501.9 555.1,493.5 562.6,489.0 572.0,483.0" fill="none" stroke="#f44336" stroke-width="3" stroke-linejoin="round" stroke-linecap="butt"/>
<polyline points="613.0,482.0 619.3,489.0 626.8,496.8 636.9,505.2 645.2,510.2 655.2,515.2 666.9,524.4 676.9,532.7 686.9,540.2 696.9,545.7 706.9,549.1 715.0,550.3 725.0,549.1 732.6,544.1 740.1,536.9 749.4,529.7 756.8,527.7 765.1,529.1 776.8,530.2 790.1,530.2 803.5,529.1 816.8,528.1 831.9,526.1 843.5,525.2 856.9,524.9 868.2,525.4" fill="none" stroke="#f44336" stroke-width="3" stroke-linejoin="round" stroke-linecap="butt"/>
</g>
<polyline clip-path="url(#c3)" points="191.1,562.2 198.3,559.2 204.4,567.5 210.0,561.4 216.1,563.4 221.1,567.5 227.8,574.7 233.6,573.9 242.0,574.7 250.0,575.0 256.7,576.1 268.4,584.1 274.2,583.1 280.9,585.0 285.9,585.0 292.6,588.1 297.6,586.6 303.4,586.5 310.1,585.5 321.8,587.1 336.8,587.8 343.5,587.3 350.1,587.8 356.8,591.5 362.7,589.1 373.5,591.1 380.2,588.6 386.8,590.3 396.9,590.6 408.5,590.6 415.2,591.5 423.6,589.1 433.6,586.6 438.6,582.8 444.4,574.5 450.3,571.1 456.9,566.4 462.0,566.4 467.8,564.8 473.6,568.6 479.5,570.3 485.3,572.8 492.0,572.4 497.5,573.3 503.5,568.3 508.3,564.1 515.0,563.6 520.9,568.9 526.7,565.3 533.4,562.8 538.4,561.6 544.2,563.1 549.2,562.8 556.7,560.3 562.6,559.4 567.6,559.1 573.4,557.4 579.4,561.1 585.4,564.1 591.5,577.5 597.5,575.3 603.5,575.0 608.5,575.6 615.2,585.3 620.5,584.8 626.5,581.1 632.5,581.6 638.5,579.5 644.5,577.0 650.5,577.3 655.5,579.5 661.5,589.0 667.5,586.6 673.5,585.8 679.5,586.5 685.5,586.1 691.5,585.6 696.5,583.6 702.5,581.5 708.5,582.0 714.5,582.0 720.5,577.5 726.5,573.1 731.7,565.8 738.6,568.3 743.4,568.1 749.4,573.6 755.4,585.3 761.4,582.8 767.4,583.3 773.4,579.1 779.5,578.1 784.5,577.8 790.5,577.0 796.5,575.8 802.5,579.5 808.5,576.6 814.5,578.6 820.5,577.3 826.5,574.5 831.5,575.8 837.5,577.8 843.5,577.5 849.5,578.1 855.5,577.3 861.5,577.5 867.5,576.6" fill="none" stroke="#8e1599" stroke-width="3" stroke-linejoin="miter" stroke-miterlimit="4" stroke-linecap="butt"/>
<g shape-rendering="crispEdges">
<rect x="1468" y="50" width="4" height="1" fill="#50535e"/>
<rect x="1468" y="91" width="4" height="1" fill="#50535e"/>
<rect x="1468" y="126" width="4" height="1" fill="#50535e"/>
<rect x="1468" y="168" width="4" height="1" fill="#50535e"/>
<rect x="1468" y="221" width="4" height="1" fill="#50535e"/>
<rect x="1468" y="263" width="4" height="1" fill="#50535e"/>
<rect x="1468" y="298" width="4" height="1" fill="#50535e"/>
<rect x="1468" y="328" width="4" height="1" fill="#50535e"/>
<rect x="1468" y="364" width="4" height="1" fill="#50535e"/>
<rect x="1468" y="401" width="4" height="1" fill="#50535e"/>
<rect x="1468" y="437" width="4" height="1" fill="#50535e"/>
<rect x="1468" y="472" width="4" height="1" fill="#50535e"/>
</g>
<g clip-path="url(#a1)"><text x="1476.0" y="54.8" font-family="Liberation Sans, Arial, sans-serif" font-size="12" fill="#42454f" textLength="35.6" lengthAdjust="spacingAndGlyphs">7.5000</text></g>
<g clip-path="url(#a1)"><text x="1476.0" y="95.9" font-family="Liberation Sans, Arial, sans-serif" font-size="12" fill="#42454f" textLength="35.6" lengthAdjust="spacingAndGlyphs">6.0000</text></g>
<g clip-path="url(#a1)"><text x="1476.0" y="130.9" font-family="Liberation Sans, Arial, sans-serif" font-size="12" fill="#42454f" textLength="35.6" lengthAdjust="spacingAndGlyphs">5.0000</text></g>
<g clip-path="url(#a1)"><text x="1476.0" y="172.7" font-family="Liberation Sans, Arial, sans-serif" font-size="12" fill="#42454f" textLength="35.6" lengthAdjust="spacingAndGlyphs">4.0000</text></g>
<g clip-path="url(#a1)"><text x="1476.0" y="225.9" font-family="Liberation Sans, Arial, sans-serif" font-size="12" fill="#42454f" textLength="35.6" lengthAdjust="spacingAndGlyphs">3.0000</text></g>
<g clip-path="url(#a1)"><text x="1476.0" y="267.9" font-family="Liberation Sans, Arial, sans-serif" font-size="12" fill="#42454f" textLength="35.6" lengthAdjust="spacingAndGlyphs">2.4000</text></g>
<g clip-path="url(#a1)"><text x="1476.0" y="302.7" font-family="Liberation Sans, Arial, sans-serif" font-size="12" fill="#42454f" textLength="35.6" lengthAdjust="spacingAndGlyphs">2.0000</text></g>
<g clip-path="url(#a1)"><text x="1476.0" y="333.0" font-family="Liberation Sans, Arial, sans-serif" font-size="12" fill="#42454f" textLength="35.6" lengthAdjust="spacingAndGlyphs">1.7000</text></g>
<g clip-path="url(#a1)"><text x="1476.0" y="368.8" font-family="Liberation Sans, Arial, sans-serif" font-size="12" fill="#42454f" textLength="35.6" lengthAdjust="spacingAndGlyphs">1.4000</text></g>
<g clip-path="url(#a1)"><text x="1476.0" y="405.6" font-family="Liberation Sans, Arial, sans-serif" font-size="12" fill="#42454f" textLength="35.6" lengthAdjust="spacingAndGlyphs">1.1500</text></g>
<g clip-path="url(#a1)"><text x="1476.0" y="441.7" font-family="Liberation Sans, Arial, sans-serif" font-size="12" fill="#42454f" textLength="35.6" lengthAdjust="spacingAndGlyphs">0.9500</text></g>
<g clip-path="url(#a1)"><text x="1476.0" y="476.5" font-family="Liberation Sans, Arial, sans-serif" font-size="12" fill="#42454f" textLength="35.6" lengthAdjust="spacingAndGlyphs">0.7900</text></g>
<g clip-path="url(#a2)" shape-rendering="crispEdges"><rect x="1468" y="489" width="4" height="1" fill="#50535e"/></g>
<g clip-path="url(#a2)"><text x="1476.0" y="493.6" font-family="Liberation Sans, Arial, sans-serif" font-size="12" fill="#42454f" textLength="35.6" lengthAdjust="spacingAndGlyphs">0.5000</text></g>
<g shape-rendering="crispEdges" fill="#50535e">
<rect x="6" y="43" width="1522" height="1" fill="#50535e"/>
<rect x="6" y="628" width="1522" height="1" fill="#50535e"/>
<rect x="6" y="43" width="1" height="586" fill="#50535e"/>
<rect x="1527" y="43" width="1" height="586" fill="#50535e"/>
<rect x="1467" y="43" width="1" height="586" fill="#50535e"/>
<rect x="6" y="488" width="1522" height="1" fill="#50535e"/>
<rect x="6" y="551" width="1522" height="1" fill="#50535e"/>
<rect x="6" y="599" width="1522" height="1" fill="#50535e"/>
<rect x="116" y="600" width="1" height="3" fill="#50535e"/>
<rect x="215" y="600" width="1" height="3" fill="#50535e"/>
<rect x="315" y="600" width="1" height="3" fill="#50535e"/>
<rect x="397" y="600" width="1" height="3" fill="#50535e"/>
<rect x="497" y="600" width="1" height="3" fill="#50535e"/>
<rect x="597" y="600" width="1" height="3" fill="#50535e"/>
<rect x="702" y="600" width="1" height="3" fill="#50535e"/>
<rect x="802" y="600" width="1" height="3" fill="#50535e"/>
<rect x="908" y="600" width="1" height="3" fill="#50535e"/>
<rect x="1007" y="600" width="1" height="3" fill="#50535e"/>
<rect x="1107" y="600" width="1" height="3" fill="#50535e"/>
<rect x="1213" y="600" width="1" height="3" fill="#50535e"/>
<rect x="1313" y="600" width="1" height="3" fill="#50535e"/>
<rect x="1412" y="600" width="1" height="3" fill="#50535e"/>
</g>
<g><rect x="1467" y="148" width="53" height="19" fill="#4caf50" shape-rendering="crispEdges"/>
<rect x="1467" y="157" width="4" height="1" fill="#fff" shape-rendering="crispEdges"/>
<text x="1476.0" y="161.8" font-family="Liberation Sans, Arial, sans-serif" font-size="12" fill="#fff" textLength="35.6" lengthAdjust="spacingAndGlyphs">4.2222</text></g>
<g><rect x="1478" y="168" width="42" height="17" fill="#4caf50" shape-rendering="crispEdges"/>
<text x="1482.5" y="180.8" font-family="Liberation Sans, Arial, sans-serif" font-size="12" fill="#fff" textLength="28.5" lengthAdjust="spacingAndGlyphs">5d 7h</text></g>
<g><rect x="1467" y="185" width="53" height="19" fill="#ff9800" shape-rendering="crispEdges"/>
<rect x="1467" y="194" width="4" height="1" fill="#000" shape-rendering="crispEdges"/>
<text x="1476.0" y="198.8" font-family="Liberation Sans, Arial, sans-serif" font-size="12" fill="#000" textLength="35.6" lengthAdjust="spacingAndGlyphs">3.7169</text></g>
<g clip-path="url(#a1)"><rect x="1467" y="476" width="56" height="19" fill="#4caf50" shape-rendering="crispEdges"/>
<rect x="1467" y="485" width="4" height="1" fill="#fff" shape-rendering="crispEdges"/>
<text x="1476.0" y="489.8" font-family="Liberation Sans, Arial, sans-serif" font-size="12" fill="#fff" textLength="37.8" lengthAdjust="spacingAndGlyphs">4.487M</text></g>
<g><rect x="1467" y="496" width="53" height="19" fill="#f44336" shape-rendering="crispEdges"/>
<rect x="1467" y="505" width="4" height="1" fill="#fff" shape-rendering="crispEdges"/>
<text x="1476.0" y="509.8" font-family="Liberation Sans, Arial, sans-serif" font-size="12" fill="#fff" textLength="35.6" lengthAdjust="spacingAndGlyphs">0.1578</text></g>
<g><rect x="1467" y="515" width="53" height="18" fill="#2196f3" shape-rendering="crispEdges"/>
<rect x="1467" y="524" width="4" height="1" fill="#fff" shape-rendering="crispEdges"/>
<text x="1476.0" y="528.3" font-family="Liberation Sans, Arial, sans-serif" font-size="12" fill="#fff" textLength="35.6" lengthAdjust="spacingAndGlyphs">0.1561</text></g>
<g><rect x="1467" y="532" width="60" height="19" fill="#ef5350" shape-rendering="crispEdges"/>
<rect x="1467" y="541" width="4" height="1" fill="#fff" shape-rendering="crispEdges"/>
<text x="1476.5" y="545.8" font-family="Liberation Sans, Arial, sans-serif" font-size="12" fill="#fff" textLength="41.5" lengthAdjust="spacingAndGlyphs">&#8722;0.0017</text></g>
<g><rect x="1467" y="567" width="47" height="19" fill="#8e1599" shape-rendering="crispEdges"/>
<rect x="1467" y="576" width="4" height="1" fill="#fff" shape-rendering="crispEdges"/>
<text x="1476.0" y="580.8" font-family="Liberation Sans, Arial, sans-serif" font-size="12" fill="#fff" textLength="29" lengthAdjust="spacingAndGlyphs">55.28</text></g>
<text x="105.55" y="619.0" font-family="Liberation Sans, Arial, sans-serif" font-size="12" fill="#42454f" textLength="20.6" lengthAdjust="spacingAndGlyphs">Feb</text>
<text x="205.10" y="619.0" font-family="Liberation Sans, Arial, sans-serif" font-size="12" fill="#42454f" textLength="19.5" lengthAdjust="spacingAndGlyphs">Jun</text>
<text x="305.20" y="619.0" font-family="Liberation Sans, Arial, sans-serif" font-size="12" fill="#42454f" textLength="19.3" lengthAdjust="spacingAndGlyphs">Oct</text>
<text x="383.30" y="619.0" font-family="Liberation Sans, Arial, sans-serif" font-size="12" font-weight="bold" fill="#42454f" textLength="28.1" lengthAdjust="spacingAndGlyphs">2019</text>
<text x="486.00" y="619.0" font-family="Liberation Sans, Arial, sans-serif" font-size="12" fill="#42454f" textLength="21.7" lengthAdjust="spacingAndGlyphs">May</text>
<text x="587.10" y="619.0" font-family="Liberation Sans, Arial, sans-serif" font-size="12" fill="#42454f" textLength="19.5" lengthAdjust="spacingAndGlyphs">Sep</text>
<text x="688.30" y="619.0" font-family="Liberation Sans, Arial, sans-serif" font-size="12" font-weight="bold" fill="#42454f" textLength="28.1" lengthAdjust="spacingAndGlyphs">2020</text>
<text x="791.00" y="619.0" font-family="Liberation Sans, Arial, sans-serif" font-size="12" fill="#42454f" textLength="21.7" lengthAdjust="spacingAndGlyphs">May</text>
<text x="898.10" y="619.0" font-family="Liberation Sans, Arial, sans-serif" font-size="12" fill="#42454f" textLength="19.5" lengthAdjust="spacingAndGlyphs">Sep</text>
<text x="993.30" y="619.0" font-family="Liberation Sans, Arial, sans-serif" font-size="12" font-weight="bold" fill="#42454f" textLength="28.1" lengthAdjust="spacingAndGlyphs">2021</text>
<text x="1096.00" y="619.0" font-family="Liberation Sans, Arial, sans-serif" font-size="12" fill="#42454f" textLength="21.7" lengthAdjust="spacingAndGlyphs">May</text>
<text x="1203.10" y="619.0" font-family="Liberation Sans, Arial, sans-serif" font-size="12" fill="#42454f" textLength="19.5" lengthAdjust="spacingAndGlyphs">Sep</text>
<text x="1299.30" y="619.0" font-family="Liberation Sans, Arial, sans-serif" font-size="12" font-weight="bold" fill="#42454f" textLength="28.1" lengthAdjust="spacingAndGlyphs">2022</text>
<text x="1401.00" y="619.0" font-family="Liberation Sans, Arial, sans-serif" font-size="12" fill="#42454f" textLength="21.7" lengthAdjust="spacingAndGlyphs">May</text>
<g transform="translate(5.8,639.1)">
<path d="M5.2 15.4 C2.2 15.4 0 13.4 0 10.7 C0 8.3 1.7 6.5 3.9 6.1 C4.3 2.6 7.3 0 10.9 0 C13.6 0 15.9 1.5 17.1 3.8 C17.7 3.6 18.3 3.5 19 3.5 C21.9 3.5 24.2 5.6 24.6 8.4 C25.6 9 26.3 10.2 26.3 11.6 C26.3 13.7 24.6 15.4 22.5 15.4 Z" fill="#2196f3"/>
<polyline points="1.2,13.6 9.8,5.8 16.2,11.6 22.6,5.4" fill="none" stroke="#fff" stroke-width="0.9"/>
<circle cx="9.8" cy="5.8" r="1.6" fill="#fff"/><circle cx="16.2" cy="11.6" r="1.6" fill="#fff"/>
</g>
<text x="34" y="651" font-family="Liberation Sans, Arial, sans-serif" font-size="12.7" fill="#0c0c0c" textLength="70.8" lengthAdjust="spacingAndGlyphs">TradingView</text>
</svg>
<svg width="700" height="42" viewBox="0 0 700 42" style="position:absolute;left:0;top:0">
<text y="16.8" font-family="Liberation Sans, Arial, sans-serif" font-size="12.2" fill="#1b1d27"><tspan x="5.80" font-weight="bold" fill="#1b1d27" textLength="85.80" lengthAdjust="spacingAndGlyphs">CryptoTickerio</tspan> <tspan x="95.40" fill="#1b1d27" textLength="52.30" lengthAdjust="spacingAndGlyphs">published</tspan> <tspan x="151.00" fill="#1b1d27" textLength="14.10" lengthAdjust="spacingAndGlyphs">on</tspan> <tspan x="168.00" fill="#1b1d27" textLength="101.60" lengthAdjust="spacingAndGlyphs">TradingView.com,</tspan> <tspan x="273.30" fill="#1b1d27" textLength="20.40" lengthAdjust="spacingAndGlyphs">July</tspan> <tspan x="297.10" fill="#1b1d27" textLength="16.90" lengthAdjust="spacingAndGlyphs">21,</tspan> <tspan x="318.00" fill="#1b1d27" textLength="27.40" lengthAdjust="spacingAndGlyphs">2020</tspan> <tspan x="349.00" fill="#1b1d27" textLength="49.20" lengthAdjust="spacingAndGlyphs">11:47:22</tspan> <tspan x="402.20" fill="#1b1d27" textLength="26.70" lengthAdjust="spacingAndGlyphs">CEST</tspan></text>
<text y="33.8" font-family="Liberation Sans, Arial, sans-serif" font-size="12.2" fill="#1b1d27"><tspan x="5.80" font-weight="bold" fill="#1b1d27" textLength="117.00" lengthAdjust="spacingAndGlyphs">HUOBI:HTUSDT, 1W</tspan> <tspan x="128.90" fill="#1b1d27" textLength="38.80" lengthAdjust="spacingAndGlyphs">4.2222</tspan> <tspan x="185.10" fill="#1b1d27" textLength="45.20" lengthAdjust="spacingAndGlyphs">+0.0103</tspan> <tspan x="234.00" fill="#1b1d27" textLength="49.90" lengthAdjust="spacingAndGlyphs">(+0.24%)</tspan> <tspan x="287.70" font-weight="bold" fill="#1b1d27" textLength="12.90" lengthAdjust="spacingAndGlyphs">O:</tspan> <tspan x="301.40" fill="#26a69a" textLength="39.30" lengthAdjust="spacingAndGlyphs">4.1642</tspan> <tspan x="345.20" font-weight="bold" fill="#1b1d27" textLength="12.80" lengthAdjust="spacingAndGlyphs">H:</tspan> <tspan x="358.70" fill="#26a69a" textLength="39.10" lengthAdjust="spacingAndGlyphs">4.2682</tspan> <tspan x="402.20" font-weight="bold" fill="#1b1d27" textLength="9.50" lengthAdjust="spacingAndGlyphs">L:</tspan> <tspan x="412.70" fill="#26a69a" textLength="38.90" lengthAdjust="spacingAndGlyphs">4.1611</tspan> <tspan x="455.70" font-weight="bold" fill="#1b1d27" textLength="11.10" lengthAdjust="spacingAndGlyphs">C:</tspan> <tspan x="467.50" fill="#26a69a" textLength="39.50" lengthAdjust="spacingAndGlyphs">4.2222</tspan></text>
<path d="M170.9 34 L176 24.1 L181.1 34 Z" fill="#26a69a"/>
</svg>
</body></html>
